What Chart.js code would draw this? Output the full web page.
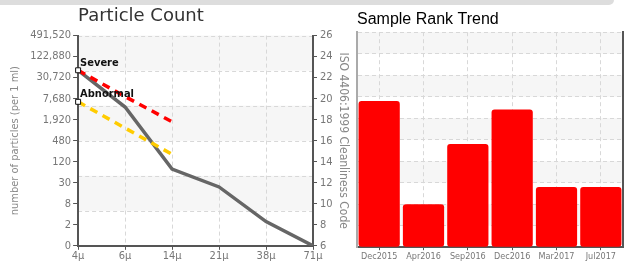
<!DOCTYPE html>
<html>
<head>
<meta charset="utf-8">
<script src="https://cdn.jsdelivr.net/npm/chart.js@4.4.1/dist/chart.umd.min.js"></script>
<style>
  html, body { margin: 0; padding: 0; background: #fff; }
  body { width: 631px; height: 263px; position: relative; overflow: hidden; }
  #strip { position: absolute; left: 0; top: 0; width: 614px; height: 5px; background: #dddddd; border-bottom-right-radius: 8px; z-index: 2; }
  #left { position: absolute; left: 0; top: 0; }
  #right { position: absolute; left: 350px; top: 0; }
</style>
</head>
<body>
<div id="strip"></div>
<canvas id="left" width="350" height="263"></canvas>
<canvas id="right" width="281" height="263"></canvas>
<script>
// particle count chart
const sizes = ['4\u03bc', '6\u03bc', '14\u03bc', '21\u03bc', '38\u03bc', '71\u03bc'];
const countLabels = ['0', '2', '8', '30', '120', '480', '1,920', '7,680', '30,720', '122,880', '491,520'];
const sampleCodes = [22.7, 19.2, 13.3, 11.6, 8.3, 6];
const severeCodes = [22.7, 20.2, 17.8, null, null, null];
const abnormalCodes = [19.7, 17.2, 14.7, null, null, null];

// rank trend chart
const months = ['Dec2015', 'Apr2016', 'Sep2016', 'Dec2016', 'Mar2017', 'Jul2017'];
const ranks = [6.8, 2.0, 4.8, 6.4, 2.8, 2.8];

const narrow = "'DejaVu Sans Condensed', 'Liberation Sans Narrow', sans-serif";
const dash = [4, 3];
const gridCol = '#d8d8d8';

// alternating light bands (and optional dashed lines) from one y scale's ticks
const bands = {
    id: 'bands',
    beforeDraw(chart, args, opts) {
        const s = chart.scales[opts.scale];
        const a = chart.chartArea;
        const c = chart.ctx;
        c.save();
        c.fillStyle = '#f6f6f6';
        for (let i = 0; i < s.ticks.length - 1; i++) {
            if (i % 2 === 0) continue;
            const y1 = s.getPixelForValue(s.ticks[i].value);
            const y2 = s.getPixelForValue(s.ticks[i + 1].value);
            c.fillRect(a.left, y2, a.right - a.left, y1 - y2);
        }
        if (opts.lines) {
            c.strokeStyle = gridCol;
            c.lineWidth = 1;
            c.setLineDash(dash);
            s.ticks.forEach(function (t) {
                const y = Math.round(s.getPixelForValue(t.value)) + 0.5;
                c.beginPath();
                c.moveTo(a.left, y);
                c.lineTo(a.right, y);
                c.stroke();
            });
        }
        c.restore();
    }
};

// "Severe" / "Abnormal" tags on the first point
const tags = {
    id: 'tags',
    afterDatasetsDraw(chart) {
        const c = chart.ctx;
        c.save();
        c.font = 'bold 11px ' + narrow;
        c.fillStyle = '#111';
        c.textBaseline = 'bottom';
        chart.data.datasets.forEach((ds, i) => {
            if (!ds.tag) return;
            const p = chart.getDatasetMeta(i).data[0];
            c.fillText(ds.tag, p.x + 2, p.y - 2);
        });
        c.restore();
    }
};

let lineDs = function (label, data, color, dashed) {
    return {
        label: label,
        data: data,
        borderColor: color,
        borderWidth: 3.5,
        borderDash: dashed ? [8, 6] : [],
        fill: false,
        tension: 0,
        yAxisID: 'y',
        pointStyle: 'rect',
        pointRadius: 0,
        pointBackgroundColor: '#fff',
        pointBorderColor: '#111',
        pointBorderWidth: 1
    };
};

let sample = lineDs('Sample', sampleCodes, '#666666', false);
let severe = lineDs('Severe', severeCodes, '#ff0000', true);
severe.tag = 'Severe';
severe.pointRadius = [3.5, 0, 0, 0, 0, 0];
let abnormal = lineDs('Abnormal', abnormalCodes, '#ffcc00', true);
abnormal.tag = 'Abnormal';
abnormal.pointRadius = [3.5, 0, 0, 0, 0, 0];

new Chart(document.getElementById('left'), {
    type: 'line',
    data: { labels: sizes, datasets: [abnormal, severe, sample] },
    plugins: [bands, tags],
    options: {
        responsive: false,
        animation: false,
        layout: { padding: { left: 7, right: 0, top: 0, bottom: 0 } },
        plugins: {
            legend: { display: false },
            tooltip: { enabled: false },
            bands: { scale: 'yGrid', lines: true },
            title: {
                display: true,
                text: 'Particle Count',
                align: 'start',
                fullSize: false,
                color: '#333',
                font: { family: "'DejaVu Sans', sans-serif", size: 18, weight: 'normal' },
                padding: { top: 6, bottom: 8 }
            }
        },
        scales: {
            x: {
                offset: false,
                grid: { color: gridCol, tickColor: '#555', tickLength: 4, drawOnChartArea: true },
                border: { color: '#555', width: 2, dash: dash },
                ticks: { color: '#777', padding: 0, font: { family: narrow, size: 11 }, maxRotation: 0 }
            },
            yGrid: {
                display: false,
                position: 'left',
                min: 0, max: 6,
                ticks: { stepSize: 1 }
            },
            y: {
                position: 'left',
                min: 6, max: 26,
                ticks: {
                    stepSize: 2, color: '#777', padding: 2,
                    font: { family: narrow, size: 11 },
                    callback: (v) => countLabels[(v - 6) / 2]
                },
                grid: { drawOnChartArea: false, tickColor: '#555', tickLength: 5 },
                border: { color: '#555', width: 2 },
                title: {
                    display: true, text: 'number of particles (per 1 ml)', color: '#888',
                    font: { family: narrow, size: 11 }, padding: { top: 2, bottom: 6 }
                }
            },
            y2: {
                position: 'right',
                min: 6, max: 26,
                ticks: { stepSize: 2, color: '#777', padding: 3, font: { family: narrow, size: 11 } },
                grid: { drawOnChartArea: false, tickColor: '#555', tickLength: 4 },
                border: { color: '#555', width: 2 },
                title: {
                    display: true, text: 'ISO 4406:1999 Cleanliness Code', color: '#888',
                    font: { family: narrow, size: 12 }, padding: 0
                }
            }
        }
    }
});

new Chart(document.getElementById('right'), {
    type: 'bar',
    data: {
        labels: months,
        datasets: [{
            label: 'Rank',
            data: ranks,
            backgroundColor: '#ff0000',
            borderRadius: 3,
            borderSkipped: false,
            barPercentage: 0.93,
            categoryPercentage: 1
        }]
    },
    plugins: [bands],
    options: {
        responsive: false,
        animation: false,
        layout: { padding: { left: 7, right: 8, top: 0, bottom: 0 } },
        plugins: {
            legend: { display: false },
            tooltip: { enabled: false },
            bands: { scale: 'y' },
            title: {
                display: true,
                text: 'Sample Rank Trend',
                align: 'start',
                fullSize: false,
                color: '#000',
                font: { family: "'Liberation Sans', Arial, sans-serif", size: 16, weight: 'normal' },
                padding: { top: 10, bottom: 3 }
            }
        },
        scales: {
            x: {
                grid: { color: gridCol, offset: false, tickColor: '#555', tickLength: 3 },
                border: { color: '#555', width: 2, dash: dash },
                ticks: { color: '#777', padding: 1, font: { family: narrow, size: 9 }, maxRotation: 0 }
            },
            y: {
                position: 'left',
                min: 0, max: 10,
                ticks: { display: false, stepSize: 1 },
                grid: { color: gridCol, drawTicks: false },
                border: { color: '#aaa', width: 2, dash: dash }
            },
            y2: {
                position: 'right',
                min: 0, max: 10,
                ticks: { display: false, stepSize: 1 },
                grid: { drawOnChartArea: false, drawTicks: false },
                border: { color: '#555', width: 2 }
            }
        }
    }
});
</script>
</body>
</html>
